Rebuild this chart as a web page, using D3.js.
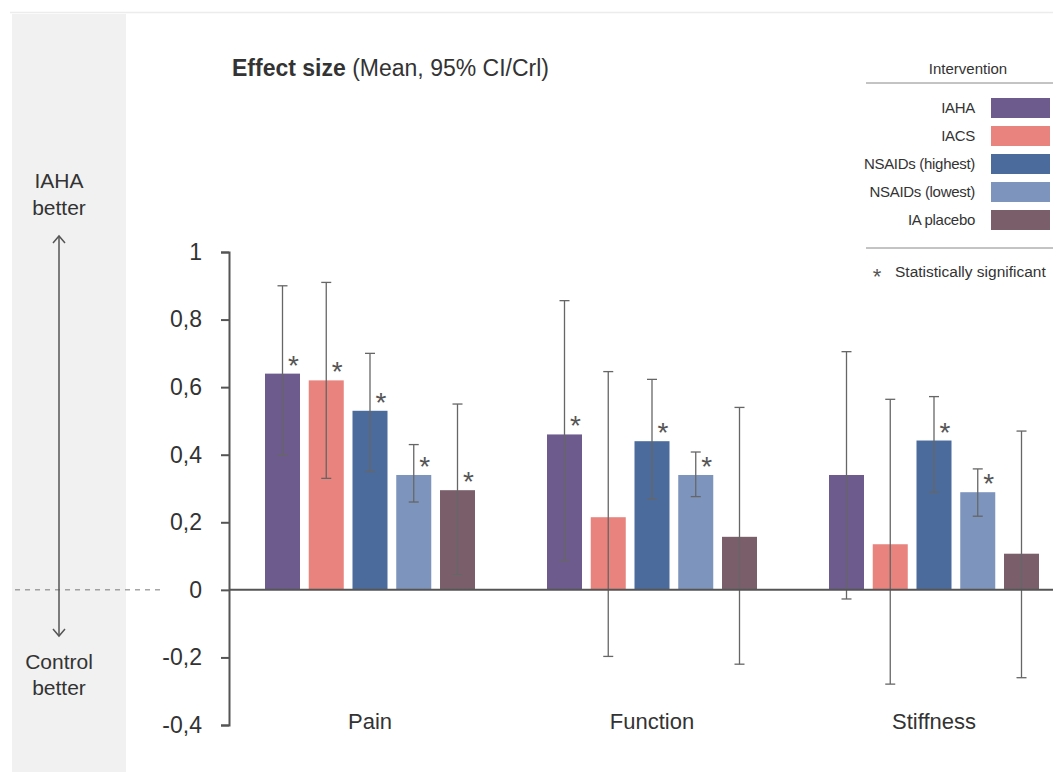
<!DOCTYPE html>
<html>
<head>
<meta charset="utf-8">
<script src="https://cdn.jsdelivr.net/npm/d3@7"></script>
<style>
  body { margin: 0; background: #fff; }
  svg { font-family: "Liberation Sans", Arial, sans-serif; }
</style>
</head>
<body>
<div id="chart"></div>
<script>
// data
var outcomes = ["Pain", "Function", "Stiffness"];
var interventions = ["IAHA", "IACS", "NSAIDs (highest)", "NSAIDs (lowest)", "IA placebo"];
var colors = ["#6d5b8e", "#e8837d", "#4a6b9c", "#7d94bd", "#7a5f6b"];

var meanPain = [0.64, 0.62, 0.53, 0.34, 0.295];
var lowPain = [0.40, 0.33, 0.35, 0.26, 0.045];
var highPain = [0.90, 0.91, 0.70, 0.43, 0.55];
var sigPain = [true, true, true, true, true];

var meanFunction = [0.46, 0.215, 0.44, 0.34, 0.157];
var lowFunction = [0.087, -0.197, 0.269, 0.276, -0.22];
var highFunction = [0.856, 0.646, 0.623, 0.408, 0.54];
var sigFunction = [true, false, true, true, false];

var meanStiffness = [0.34, 0.135, 0.442, 0.289, 0.107];
var lowStiffness = [-0.027, -0.279, 0.289, 0.218, -0.26];
var highStiffness = [0.705, 0.564, 0.572, 0.358, 0.47];
var sigStiffness = [false, false, true, true, false];

var yTicks = [1, 0.8, 0.6, 0.4, 0.2, 0, -0.2, -0.4];

var means = [meanPain, meanFunction, meanStiffness];
var lows = [lowPain, lowFunction, lowStiffness];
var highs = [highPain, highFunction, highStiffness];
var sigs = [sigPain, sigFunction, sigStiffness];

var rows = [];
outcomes.forEach(function (o, i) {
    interventions.forEach(function (k, j) {
        rows.push({ outcome: o, key: k, color: colors[j],
            mean: means[i][j], lo: lows[i][j], hi: highs[i][j], sig: sigs[i][j] });
    });
});

var width = 1053, height = 772;
var svg = d3.select("#chart").append("svg")
    .attr("width", width)
    .attr("height", height);

// frame and left panel
svg.append("line")
    .attr("x1", 10).attr("x2", width).attr("y1", 12.5).attr("y2", 12.5)
    .attr("stroke", "#ececec").attr("stroke-width", 1.5);
svg.append("rect")
    .attr("x", 12).attr("y", 14).attr("width", 114).attr("height", height - 14)
    .attr("fill", "#f1f1f1");

// scales
var y = d3.scaleLinear().domain([-0.4, 1]).range([725, 252]);
var x0 = d3.scaleBand().domain(outcomes).range([229, 1075]);
var x1 = d3.scaleBand().domain(interventions).range([36, 246]).paddingInner(0.2);

var textColor = "#333";

// dashed zero guide in panel
svg.append("line")
    .attr("x1", 15).attr("x2", 165).attr("y1", y(0)).attr("y2", y(0))
    .attr("stroke", "#777").attr("stroke-width", 1).attr("stroke-dasharray", "5,5");

// arrow
var ax = 59;
svg.append("line")
    .attr("x1", ax).attr("x2", ax).attr("y1", 236).attr("y2", 636)
    .attr("stroke", "#555").attr("stroke-width", 1.5);
svg.append("path")
    .attr("d", "M" + (ax - 6) + ",243L" + ax + ",236L" + (ax + 6) + ",243")
    .attr("fill", "none").attr("stroke", "#555").attr("stroke-width", 1.5);
svg.append("path")
    .attr("d", "M" + (ax - 6) + ",629L" + ax + ",636L" + (ax + 6) + ",629")
    .attr("fill", "none").attr("stroke", "#555").attr("stroke-width", 1.5);

[["IAHA", 188], ["better", 215], ["Control", 669], ["better", 695]].forEach(function (t) {
    svg.append("text")
        .attr("x", ax).attr("y", t[1])
        .attr("text-anchor", "middle")
        .style("font-size", "21px")
        .attr("fill", textColor)
        .text(t[0]);
});

// title
var title = svg.append("text")
    .attr("x", 232).attr("y", 76)
    .style("font-size", "23px")
    .attr("fill", textColor);
title.append("tspan").attr("font-weight", 700).text("Effect size");
title.append("tspan").text(" (Mean, 95% CI/Crl)");

// y axis
var yAxis = svg.append("g")
    .attr("transform", "translate(229,0)")
    .call(d3.axisLeft(y).tickValues(yTicks).tickSize(8).tickSizeOuter(8)
        .tickFormat(function (d) { return d3.format("~g")(d).replace(".", ",").replace("\u2212", "-"); }));
yAxis.select(".domain").attr("stroke", "#555").attr("stroke-width", 2);
yAxis.selectAll(".tick line").attr("stroke", "#555").attr("stroke-width", 2);
yAxis.selectAll(".tick text")
    .attr("x", -27)
    .attr("fill", textColor)
    .style("font-size", "23px")
    .attr("font-family", "Liberation Sans, Arial, sans-serif");

// bars
var groups = svg.selectAll(".grp")
    .data(outcomes)
    .join("g")
    .attr("class", "grp")
    .attr("transform", function (d) { return "translate(" + x0(d) + ",0)"; });

groups.selectAll("rect")
    .data(function (o) { return rows.filter(function (r) { return r.outcome === o; }); })
    .join("rect")
    .attr("x", function (d) { return x1(d.key); })
    .attr("y", function (d) { return y(d.mean); })
    .attr("width", x1.bandwidth())
    .attr("height", function (d) { return y(0) - y(d.mean); })
    .attr("fill", function (d) { return d.color; });

// zero line
svg.append("line")
    .attr("x1", 229).attr("x2", width).attr("y1", y(0)).attr("y2", y(0))
    .attr("stroke", "#555").attr("stroke-width", 2);

// error bars
var err = groups.selectAll(".err")
    .data(function (o) { return rows.filter(function (r) { return r.outcome === o; }); })
    .join("g")
    .attr("class", "err")
    .attr("transform", function (d) { return "translate(" + (x1(d.key) + x1.bandwidth() / 2) + ",0)"; })
    .attr("stroke", "#666")
    .attr("stroke-width", 1.3);
err.append("line")
    .attr("y1", function (d) { return y(d.lo); })
    .attr("y2", function (d) { return y(d.hi); });
err.append("line")
    .attr("x1", -5).attr("x2", 5)
    .attr("y1", function (d) { return y(d.hi); })
    .attr("y2", function (d) { return y(d.hi); });
err.append("line")
    .attr("x1", -5).attr("x2", 5)
    .attr("y1", function (d) { return y(d.lo); })
    .attr("y2", function (d) { return y(d.lo); });

// significance stars
groups.selectAll(".star")
    .data(function (o) { return rows.filter(function (r) { return r.outcome === o && r.sig; }); })
    .join("text")
    .attr("class", "star")
    .attr("x", function (d) { return x1(d.key) + x1.bandwidth() / 2 + 11; })
    .attr("y", function (d) { return y(d.mean) + 1; })
    .attr("text-anchor", "middle")
    .style("font-size", "28px")
    .attr("fill", "#555")
    .text("*");

// category labels
svg.selectAll(".cat")
    .data(outcomes)
    .join("text")
    .attr("class", "cat")
    .attr("x", function (d) { return x0(d) + 141; })
    .attr("y", 729)
    .attr("text-anchor", "middle")
    .style("font-size", "22px")
    .attr("fill", textColor)
    .text(function (d) { return d; });

// legend
var lg = svg.append("g");
lg.append("text")
    .attr("x", 968).attr("y", 74)
    .attr("text-anchor", "middle")
    .style("font-size", "15px")
    .attr("fill", textColor)
    .text("Intervention");
lg.append("line")
    .attr("x1", 866).attr("x2", width).attr("y1", 83).attr("y2", 83)
    .attr("stroke", "#888").attr("stroke-width", 1);
lg.append("line")
    .attr("x1", 866).attr("x2", width).attr("y1", 248).attr("y2", 248)
    .attr("stroke", "#888").attr("stroke-width", 1);

var items = lg.selectAll(".item")
    .data(interventions)
    .join("g")
    .attr("class", "item")
    .attr("transform", function (d, i) { return "translate(0," + (108 + i * 28) + ")"; });
items.append("rect")
    .attr("x", 991).attr("y", -10).attr("width", 59).attr("height", 20)
    .attr("fill", function (d, i) { return colors[i]; });
items.append("text")
    .attr("x", 975).attr("y", 5)
    .attr("text-anchor", "end")
    .style("font-size", "15px")
    .attr("letter-spacing", "-0.3px")
    .attr("fill", textColor)
    .text(function (d) { return d; });

lg.append("text")
    .attr("x", 877).attr("y", 284)
    .attr("text-anchor", "middle")
    .style("font-size", "22px")
    .attr("fill", "#555")
    .text("*");
lg.append("text")
    .attr("x", 895).attr("y", 277)
    .style("font-size", "15.5px")
    .attr("fill", textColor)
    .text("Statistically significant");
</script>
</body>
</html>
